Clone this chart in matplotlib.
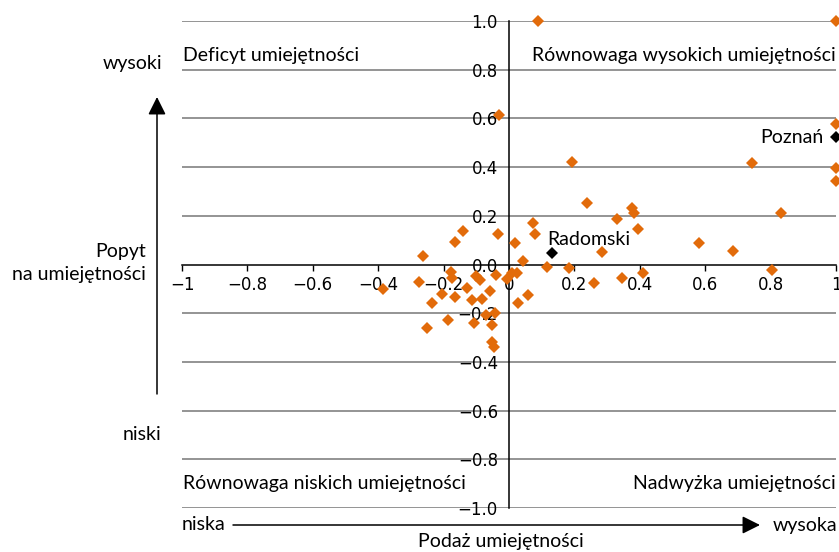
import numpy as np
import matplotlib
matplotlib.use("Agg")
from matplotlib import pyplot as plt

# podaz (x) / popyt (y) umiejetnosci - powiaty
x_vals = [-0.384, -0.262, -0.274, -0.252, -0.236, -0.204, -0.186, -0.178, -0.175, -0.165,
          -0.165, -0.140, -0.129, -0.114, -0.106, -0.102, -0.089, -0.082, -0.070, -0.058,
          -0.053, -0.043, -0.051, -0.046, -0.040, -0.033, -0.007, 0.008, 0.024, 0.018,
          0.029, 0.042, 0.057, 0.072, 0.080, 0.117, 0.192, 0.238, 0.331, 0.375,
          0.383, 0.394, 0.283, 0.182, 0.260, 0.345, 0.409, 0.582, 0.686, 0.805,
          0.831, 0.744, 1.0, 1.0, 0.09, 1.0, -0.03, 1.0]
y_vals = [-0.100, 0.034, -0.070, -0.260, -0.157, -0.120, -0.227, -0.029, -0.055, 0.092,
          -0.134, 0.138, -0.097, -0.144, -0.241, -0.049, -0.063, -0.141, -0.209, -0.107,
          -0.250, -0.200, -0.320, -0.337, -0.045, 0.125, -0.059, -0.036, -0.034, 0.088,
          -0.157, 0.014, -0.126, 0.171, 0.125, -0.011, 0.420, 0.253, 0.186, 0.231,
          0.211, 0.144, 0.050, -0.015, -0.077, -0.055, -0.034, 0.089, 0.057, -0.022,
          0.212, 0.418, 0.397, 0.342, 1.0, 1.0, 0.615, 0.578]

# wyroznione powiaty
hl_names = ["Poznań", "Radomski"]
hl_x = [1.0, 0.132]
hl_y = [0.523, 0.046]

x_ticks = [-1, -0.8, -0.6, -0.4, -0.2, 0, 0.2, 0.4, 0.6, 0.8, 1]
x_labels = ["−1", "−0.8", "−0.6", "−0.4", "−0.2", "0", "0.2", "0.4", "0.6", "0.8", "1"]
y_ticks = [-1, -0.8, -0.6, -0.4, -0.2, 0, 0.2, 0.4, 0.6, 0.8, 1]
y_labels = ["−1.0", "−0.8", "−0.6", "−0.4", "−0.2", "0.0", "0.2", "0.4", "0.6", "0.8", "1.0"]

orange = "#E26B0A"
txt_font = ["Lato", "DejaVu Sans"]
fs = 14

W, H = 839, 552
fig = plt.figure(figsize=(W / 100, H / 100), dpi=100)
ax = fig.add_axes([182 / W, 1 - 508 / H, 654 / W, 487 / H])
ax.set_xlim(-1, 1)
ax.set_ylim(-1, 1)

# siatka pozioma
for yv in y_ticks:
    if yv != 0:
        ax.axhline(yv, color="#767676", lw=1.1, zorder=1)

ax.spines["top"].set_visible(False)
ax.spines["right"].set_visible(False)
ax.spines["left"].set_position(("data", 0))
ax.spines["bottom"].set_position(("data", 0))
ax.spines["left"].set_linewidth(1.1)
ax.spines["bottom"].set_linewidth(1.1)

ax.set_xticks(x_ticks)
ax.set_xticklabels(x_labels)
ax.set_yticks(y_ticks)
ax.set_yticklabels(y_labels)
ax.tick_params(axis="x", direction="out", length=4, width=1, labelsize=12, pad=4)
ax.tick_params(axis="y", length=0, labelsize=12, pad=8)

ax.plot(x_vals, y_vals, "D", color=orange, ms=6.3, mew=0, zorder=3, clip_on=False)
ax.plot(hl_x, hl_y, "D", color="black", ms=6.3, mew=0, zorder=4, clip_on=False)

ax.text(0.963, 0.523, hl_names[0], ha="right", va="center", fontsize=fs, family=txt_font)
ax.text(0.116, 0.103, hl_names[1], ha="left", va="center", fontsize=fs, family=txt_font)

# cwiartki
ax.text(-0.997, 0.858, "Deficyt umiejętności", ha="left", va="center", fontsize=fs, family=txt_font)
ax.text(1.0, 0.858, "Równowaga wysokich umiejętności", ha="right", va="center", fontsize=fs, family=txt_font)
ax.text(-0.997, -0.9, "Równowaga niskich umiejętności", ha="left", va="center", fontsize=fs, family=txt_font)
ax.text(1.0, -0.9, "Nadwyżka umiejętności", ha="right", va="center", fontsize=fs, family=txt_font)

def fx(px):
    return px / W

def fy(py):
    return 1 - py / H

# opis osi pionowej
fig.text(fx(162), fy(63), "wysoki", ha="right", va="center", fontsize=fs, family=txt_font)
fig.text(fx(146), fy(263), "Popyt\nna umiejętności", ha="right", va="center",
         multialignment="right", linespacing=1.4, fontsize=fs, family=txt_font)
fig.text(fx(161), fy(434), "niski", ha="right", va="center", fontsize=fs, family=txt_font)
fig.add_artist(matplotlib.patches.FancyArrowPatch(
    (fx(157), fy(394)), (fx(157), fy(97)), transform=fig.transFigure,
    arrowstyle="-|>,head_length=0.6,head_width=0.3", mutation_scale=18,
    color="black", lw=1.1, shrinkA=0, shrinkB=0))

# opis osi poziomej
fig.text(fx(182), fy(525), "niska", ha="left", va="center", fontsize=fs, family=txt_font)
fig.text(fx(773), fy(525), "wysoka", ha="left", va="center", fontsize=fs, family=txt_font)
fig.text(fx(501), fy(542), "Podaż umiejętności", ha="center", va="center", fontsize=fs, family=txt_font)
fig.add_artist(matplotlib.patches.FancyArrowPatch(
    (fx(233), fy(525)), (fx(760), fy(525)), transform=fig.transFigure,
    arrowstyle="-|>,head_length=0.6,head_width=0.3", mutation_scale=18,
    color="black", lw=1.1, shrinkA=0, shrinkB=0))

fig.savefig("out.png", dpi=100)
